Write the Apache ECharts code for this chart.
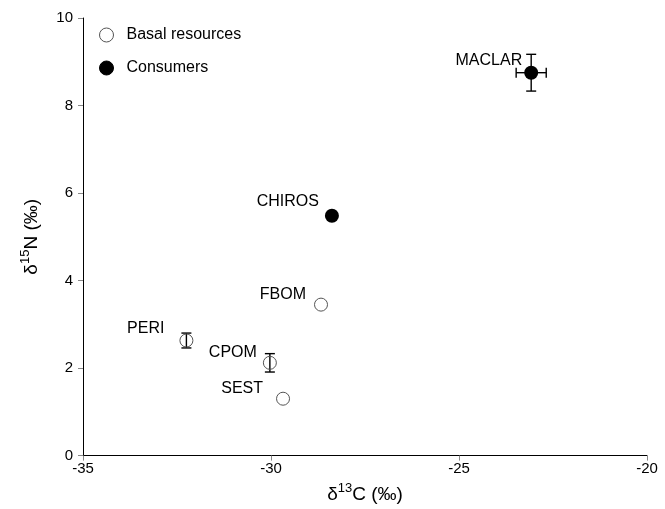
<!DOCTYPE html>
<html>
<head>
<meta charset="utf-8">
<script src="https://cdn.jsdelivr.net/npm/echarts@6/dist/echarts.min.js"></script>
<style>html,body{margin:0;padding:0;background:#fff}#c{width:665px;height:509px}</style>
</head>
<body>
<div id="c"></div>
<script>
// ---- data ----
const basalNames = ['SEST', 'CPOM', 'FBOM', 'PERI'];
const basalX = [-29.68, -30.03, -28.67, -32.25];
const basalY = [1.30, 2.12, 3.45, 2.63];
const basalXErr = [0, 0, 0, 0];
const basalYErr = [0, 0.21, 0, 0.17];

const consumerNames = ['CHIROS', 'MACLAR'];
const consumerX = [-28.38, -23.08];
const consumerY = [5.48, 8.75];
const consumerXErr = [0, 0.40];
const consumerYErr = [0, 0.42];

const xTicks = [-35, -30, -25, -20];
const yTicks = [0, 2, 4, 6, 8, 10];
const legendNames = ['Basal resources', 'Consumers'];

// ---- presentation ----
const FONT = 'Liberation Sans, Arial, Helvetica, sans-serif';
const labelOffsets = {
  SEST: [-8, -10], CPOM: [-1, -10], FBOM: [-3, -10], PERI: [-10, -12],
  CHIROS: [-1, -14], MACLAR: [3, -12]
};

function pts(names, xs, ys) {
  return names.map((n, i) => ({
    name: n, value: [xs[i], ys[i]],
    label: { offset: labelOffsets[n] }
  }));
}
function errs(xs, ys, xe, ye) {
  return xs.map((x, i) => [x, ys[i], xe[i], ye[i]]);
}

const errRender = function (params, api) {
  const x = api.value(0), y = api.value(1), xe = api.value(2), ye = api.value(3);
  const children = [];
  const cap = 5;
  const st = { stroke: '#000', lineWidth: 1.4 };
  if (ye > 0) {
    const t = api.coord([x, y + ye]), b = api.coord([x, y - ye]);
    children.push({ type: 'line', shape: { x1: t[0], y1: t[1], x2: b[0], y2: b[1] }, style: st });
    children.push({ type: 'line', shape: { x1: t[0] - cap, y1: t[1], x2: t[0] + cap, y2: t[1] }, style: st });
    children.push({ type: 'line', shape: { x1: b[0] - cap, y1: b[1], x2: b[0] + cap, y2: b[1] }, style: st });
  }
  if (xe > 0) {
    const l = api.coord([x - xe, y]), r = api.coord([x + xe, y]);
    children.push({ type: 'line', shape: { x1: l[0], y1: l[1], x2: r[0], y2: r[1] }, style: st });
    children.push({ type: 'line', shape: { x1: l[0], y1: l[1] - cap, x2: l[0], y2: l[1] + cap }, style: st });
    children.push({ type: 'line', shape: { x1: r[0], y1: r[1] - cap, x2: r[0], y2: r[1] + cap }, style: st });
  }
  return { type: 'group', children };
};

const labelStyle = {
  show: true, position: 'left', distance: 5,
  formatter: '{b}', color: '#000', fontSize: 16, fontFamily: FONT, opacity: 1
};

const chart = echarts.init(document.getElementById('c'), null, { renderer: 'canvas' });
chart.setOption({
  animation: false,
  backgroundColor: '#fff',
  textStyle: { fontFamily: FONT },
  grid: { left: 83, right: 18, top: 18, bottom: 52 },
  legend: {
    orient: 'vertical', left: 94, top: 22, itemGap: 17, padding: 5,
    itemWidth: 14, itemHeight: 14,
    itemStyle: { borderWidth: 1 },
    data: legendNames,
    textStyle: { fontSize: 16, color: '#000', fontFamily: FONT, padding: [0, 0, 0, 8] }
  },
  xAxis: {
    type: 'value', min: xTicks[0], max: xTicks[xTicks.length - 1], interval: 5,
    splitLine: { show: false },
    axisLine: { onZero: false, lineStyle: { color: '#000', width: 1 } },
    axisTick: { length: 5, lineStyle: { color: '#888' } },
    axisLabel: { color: '#000', fontSize: 15, fontFamily: FONT, margin: 6 },
    name: 'δ{sup|13}C (‰)', nameLocation: 'middle', nameGap: 25,
    nameTextStyle: {
      color: '#000', fontSize: 19, fontFamily: FONT,
      rich: { sup: { fontSize: 13, verticalAlign: 'top', lineHeight: 26, color: '#000', fontFamily: FONT } }
    }
  },
  yAxis: {
    type: 'value', min: yTicks[0], max: yTicks[yTicks.length - 1], interval: 2,
    splitLine: { show: false },
    axisLine: { onZero: false, lineStyle: { color: '#000', width: 1 } },
    axisTick: { length: 5, lineStyle: { color: '#888' } },
    axisLabel: { color: '#000', fontSize: 15, fontFamily: FONT, margin: 10 },
    name: 'δ{sup|15}N (‰)', nameLocation: 'middle', nameGap: 38,
    nameTextStyle: {
      color: '#000', fontSize: 19, fontFamily: FONT,
      rich: { sup: { fontSize: 13, verticalAlign: 'top', lineHeight: 26, color: '#000', fontFamily: FONT } }
    }
  },
  series: [
    {
      type: 'custom', name: 'err-basal', renderItem: errRender, z: 1,
      data: errs(basalX, basalY, basalXErr, basalYErr), silent: true
    },
    {
      type: 'custom', name: 'err-cons', renderItem: errRender, z: 1,
      data: errs(consumerX, consumerY, consumerXErr, consumerYErr), silent: true
    },
    {
      type: 'scatter', name: legendNames[0], symbol: 'circle', symbolSize: 13, z: 3,
      itemStyle: { color: 'rgba(255,255,255,0)', borderColor: '#555', borderWidth: 1, opacity: 1 },
      label: labelStyle,
      data: pts(basalNames, basalX, basalY)
    },
    {
      type: 'scatter', name: legendNames[1], symbol: 'circle', symbolSize: 14, z: 3,
      itemStyle: { color: '#000', borderColor: '#000', borderWidth: 0, opacity: 1 },
      label: labelStyle,
      data: pts(consumerNames, consumerX, consumerY)
    }
  ]
});
</script>
</body>
</html>
